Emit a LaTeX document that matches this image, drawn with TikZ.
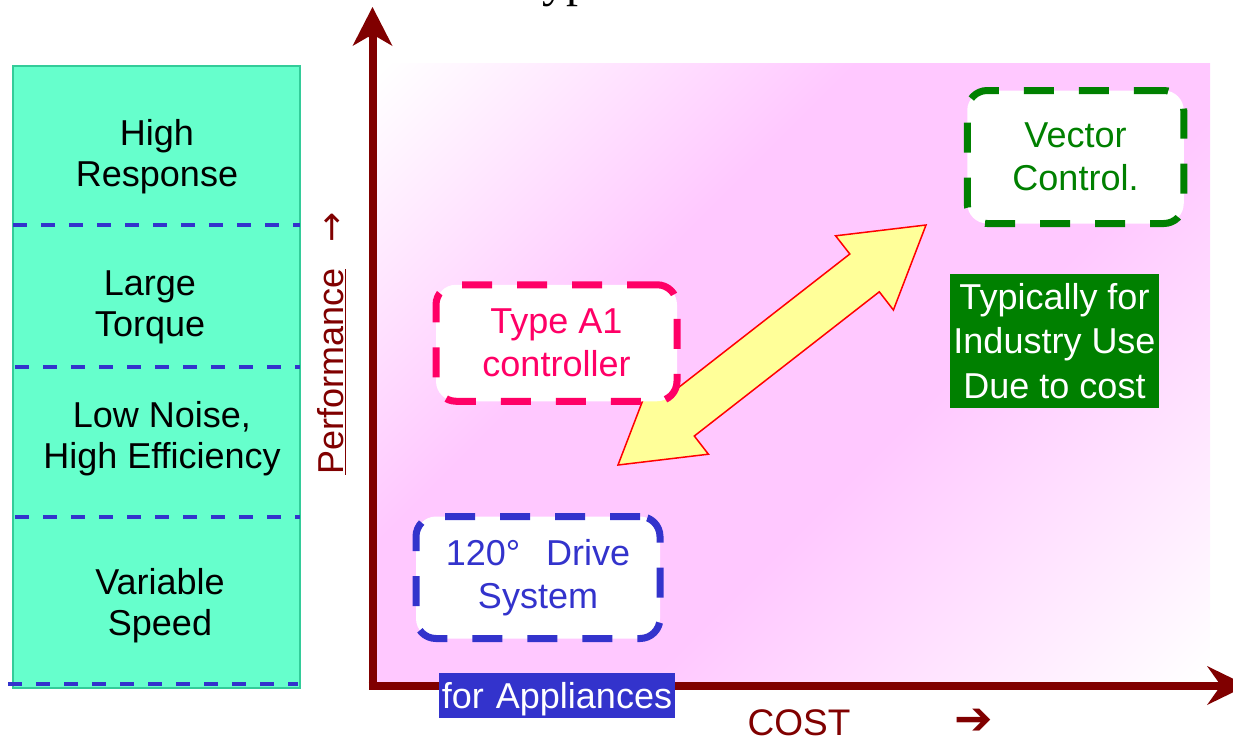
\documentclass[tikz,border=0pt]{standalone}
\usepackage{fontspec}
\setmainfont{Liberation Sans}
\newfontfamily\seriffont{Liberation Serif}
\newfontfamily\djv{DejaVu Sans}
\definecolor{tealfill}{HTML}{66FFCC}
\definecolor{tealedge}{HTML}{33CC99}
\definecolor{dashblue}{HTML}{3333CC}
\definecolor{axisred}{HTML}{800000}
\definecolor{pinkbg}{RGB}{255,200,255}
\definecolor{pinkbox}{HTML}{FF0066}
\definecolor{vgreen}{HTML}{008000}
\definecolor{ygold}{HTML}{FFFF99}
\pgfdeclarehorizontalshading{pinkrefl}{100bp}{color(0bp)=(white); color(15bp)=(white); color(38bp)=(pinkbg); color(58bp)=(pinkbg); color(85bp)=(white); color(100bp)=(white)}
\tikzset{
  lbl/.style={font=\fontsize{36}{41}\selectfont, align=center, inner sep=0pt},
  dbox/.style={rounded corners=20pt, line width=7pt, dash pattern=on 30pt off 25pt, fill=white,
    font=\fontsize{36}{43}\selectfont, align=center, inner sep=0pt},
  sepline/.style={draw=dashblue, line width=3.5pt, dash pattern=on 14pt off 14pt},
  axisline/.style={draw=axisred, line width=8pt},
  axishead/.style={fill=axisred},
}
\begin{document}
\begin{tikzpicture}[x=1pt,y=-1pt]
\useasboundingbox (0,0) rectangle (1233,740);
% background
\shade[shading=pinkrefl, shading angle=-45] (376,63) rectangle (1210,682);
% left panel
\draw[fill=tealfill, draw=tealedge, line width=1.5pt] (13,66) rectangle (300,688);
\coordinate (s1a) at (13,225);  \coordinate (s1b) at (300,225);
\coordinate (s2a) at (15,367);  \coordinate (s2b) at (300,367);
\coordinate (s3a) at (15,517);  \coordinate (s3b) at (300,517);
\coordinate (s4a) at (8,684);   \coordinate (s4b) at (298,684);
\draw[sepline] (s1a) -- (s1b);
\draw[sepline] (s2a) -- (s2b);
\draw[sepline] (s3a) -- (s3b);
\draw[sepline] (s4a) -- (s4b);
\node[lbl] (hr) at (157,157) {High\\Response};
\node[lbl] (lt) at (150,307) {Large\\Torque};
\node[lbl] (ln) at (162,439) {Low Noise,\\High Efficiency};
\node[lbl] (vs) at (160,606) {Variable\\Speed};
% axes
\coordinate (origin) at (372.5,685.5);
\coordinate (ycorner) at (372.5,689.5);
\coordinate (yend) at (372.5,36);
\coordinate (xcorner) at (368.5,685.5);
\coordinate (xend) at (1221,685.5);
\draw[axisline] (ycorner) -- (yend);
\draw[axisline] (xcorner) -- (xend);
\fill[axishead] (372.5,7) -- (392.5,46) -- (377,37) -- (368,37) -- (352.5,46) -- cycle;
\fill[axishead] (1247,685.5) -- (1207,666) -- (1218,681.5) -- (1218,689.5) -- (1207,705) -- cycle;
% yellow double arrow
\draw[fill=ygold, draw=red, line width=1.5pt, line join=miter]
  (618,465) -- (708.4,454.2) -- (694.3,436.0) -- (879.3,291.8) -- (893.4,310.0)
  -- (926,225) -- (835.6,235.8) -- (849.8,254.0) -- (664.8,398.2) -- (650.6,380.0) -- cycle;
% boxes
\node[dbox, draw=pinkbox, text=pinkbox, minimum width=241pt, minimum height=116.5pt] (a1) at (556.5,343) {Type A1\\controller};
\node[dbox, draw=dashblue, text=dashblue, minimum width=244pt, minimum height=122pt] (drive) at (538,577.5) {120°\hspace{16pt} Drive\\System};
\node[dbox, draw=vgreen, text=vgreen, minimum width=216.5pt, minimum height=133pt] (vec) at (1075.5,157) {Vector\\Control.};
\node[fill=vgreen, text=white, font=\fontsize{36}{44.5}\selectfont, align=center, inner sep=0pt,
  minimum width=209pt, minimum height=134pt] (ind) at (1054.5,341) {Typically for\\Industry Use\\Due to cost};
\node[fill=dashblue, text=white, font=\fontsize{36}{41}\selectfont, inner sep=0pt, text width=236pt, align=center,
  text height=35pt, text depth=10pt, anchor=base] (app) at (557,708) {for Appliances};
% axis labels
\node[rotate=90, anchor=base west, text=axisred, font=\fontsize{36}{41}\selectfont, inner sep=0pt] (perf) at (343,475) {\underline{Performance}\hspace{26pt}{\djv →}};
\node[anchor=base, text=axisred, font=\fontsize{37}{41}\selectfont, inner sep=0pt] (cost) at (799,735) {COST};
\node[text=axisred, font=\djv\fontsize{46}{48}\selectfont, inner sep=0pt] (costarrow) at (974,722) {➔};
% clipped title
\begin{scope}
\clip (0,0) rectangle (1233,740);
\node[anchor=base west, font=\seriffont\fontsize{48}{50}\selectfont, inner sep=0pt] (title) at (516,-3.4) {Types};
\end{scope}
\end{tikzpicture}
\end{document}
